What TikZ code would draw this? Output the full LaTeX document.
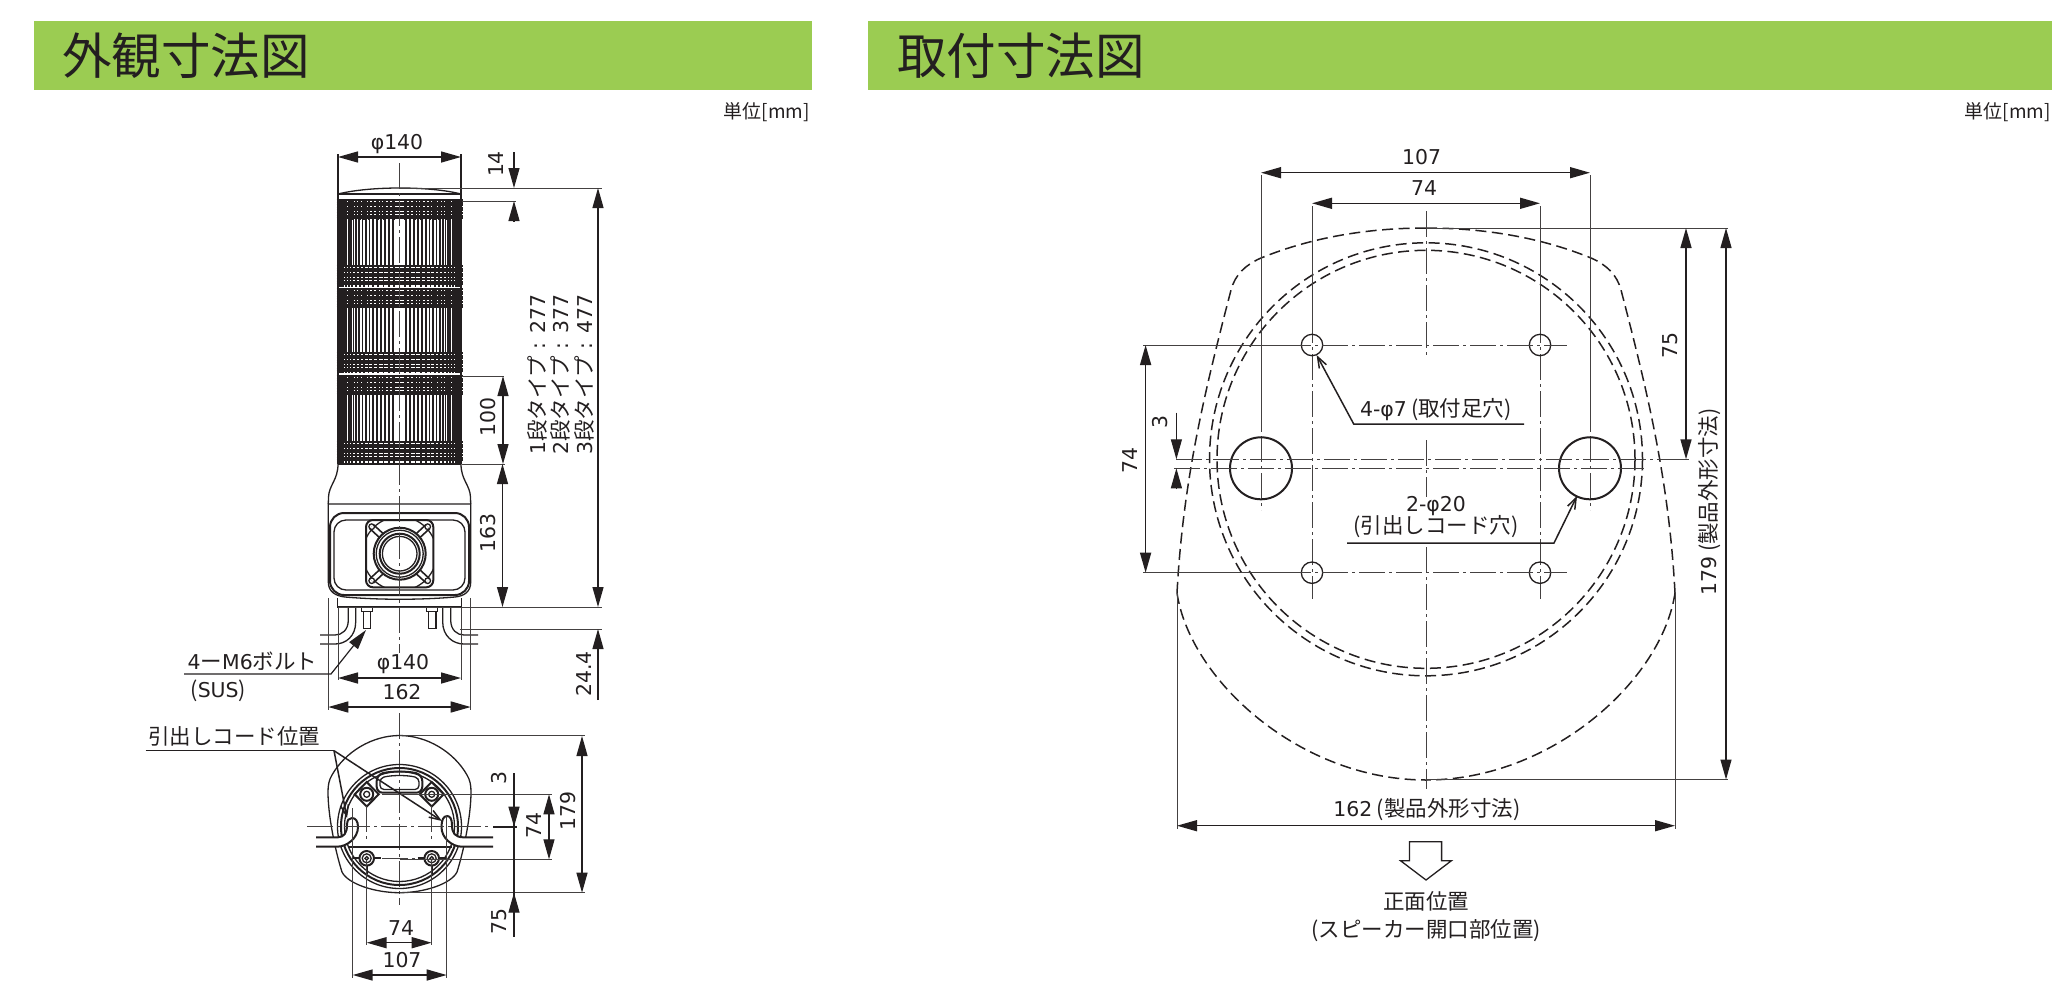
\documentclass[tikz,border=0pt]{standalone}
\usepackage{fontspec}
\setmainfont{Noto Sans CJK JP}
\newfontfamily\numfont[Scale=0.95]{DejaVu Sans}
\usetikzlibrary{arrows.meta}
\definecolor{barGreen}{RGB}{155,204,82}
\definecolor{ink}{RGB}{35,31,32}
\tikzset{
    %Define standard arrow tip
    >={Triangle[length=20pt,width=11pt]},
    %Define style for texts
    lbl/.style={
           inner sep=0pt,
           text=ink,
           font=\fontsize{21.5}{26}\selectfont},
    title/.style={
           inner sep=0pt,
           anchor=west,
           text=ink,
           font=\fontsize{49.5}{56}\selectfont},
    unitlbl/.style={
           inner sep=0pt,
           anchor=east,
           text=ink,
           font=\fontsize{19}{22}\selectfont},
    vert/.style={lbl,rotate=90},
    % Define line styles
    part/.style={draw=ink,line width=1.3pt},
    heavy/.style={draw=ink,line width=2pt},
    hidden/.style={draw=ink,line width=1.5pt,dash pattern=on 11pt off 5.5pt},
    thin/.style={draw=ink!85,line width=1pt},
    dimthin/.style={draw=ink,line width=1.2pt},
    dim/.style={draw=ink,line width=1.5pt,<->},
    center/.style={draw=ink!85,line width=1pt,dash pattern=on 26pt off 4pt on 3pt off 4pt},
    openarrow/.style={draw=ink,line width=1.5pt,-{Straight Barb[length=11pt,width=8pt]}}
}
\newcommand{\LP}{\kern.2em(}
\newcommand{\RP}{)\kern.2em}
\newcommand{\dg}[1]{{\numfont #1}}
\begin{document}
\begin{tikzpicture}[x=1pt,y=-1pt]
\useasboundingbox (0,0) rectangle (2068,996);
 %header bars
\fill[barGreen] (34,21) rectangle (812,90);
\fill[barGreen] (868,21) rectangle (2052,90);
\node[title](title1) at (62,56){外観寸法図};
\node[title](title2) at (897,56){取付寸法図};
\node[unitlbl](unit1) at (810,112){単位[mm]};
\node[unitlbl](unit2) at (2051,112){単位[mm]};

 %tower
\draw[part] (338,194) .. controls (370,186) and (430,186) .. (461,194);
\draw[part] (338,194) -- (461,194);
\draw[part] (338,154) -- (338,464);
\draw[part] (461,154) -- (461,464);
\foreach \top/\bot in {200/266,289/353,376/442}
  \foreach \a in {-86,-82,...,-6,6,10,...,86}
    \draw[ink,line width=1.8pt] ({399.5+60*sin(\a)},\top) -- ({399.5+60*sin(\a)},\bot);
\foreach \top/\bot in {200/220,266/287,289/308,353/373,376/395,442/464}{
  \foreach \a in {-85,-80,...,85}
    \draw[ink,line width=1.8pt] ({399.5+62*sin(\a)},\top) -- ({399.5+62*sin(\a)},\bot);
  \foreach \y in {0,2.6,...,20}
    \draw[ink,line width=1.9pt] (336.5,\top+\y) -- (462.5,\top+\y);
}
\draw[ink,line width=2.4pt] (338,464) -- (461,464);
 %neck and base
\draw[part] (338,464) .. controls (338,480) and (329,485) .. (328.5,497) -- (328.3,504);
\draw[part] (461,464) .. controls (461,480) and (470,485) .. (470.5,497) -- (470.7,504);
\draw[part] (328.3,504) -- (328.3,582) .. controls (328.3,592) and (336,596) .. (345,597)
  .. controls (380,600) and (420,600) .. (455,597) .. controls (464,596) and (470.7,592) .. (470.7,582) -- (470.7,504) -- cycle;
\draw[heavy,rounded corners=14pt] (330,513) rectangle (469,595);
\draw[part,rounded corners=12pt] (334,520) rectangle (465,590);
 %speaker
\draw[heavy,rounded corners=7pt] (366,520) rectangle (433.3,587.3);
\begin{scope}
\clip[rounded corners=7pt] (366,520) rectangle (433.3,587.3);
\draw[part] (399.7,553.7) circle (37);
\end{scope}
\foreach \dx/\dy in {-1/-1,1/-1,-1/1,1/1}{
  \draw[ink,line width=7pt] (399.7+\dx*28,553.7+\dy*27) -- (399.7+\dx*15,553.7+\dy*15);
  \draw[white,line width=3.5pt] (399.7+\dx*28,553.7+\dy*27) -- (399.7+\dx*15,553.7+\dy*15);
  \draw[part] (399.7+\dx*28,553.7+\dy*27) circle (2.8);
}
\draw[heavy,fill=white] (399.7,553.7) circle (26);
\draw[part] (399.7,553.7) circle (23.5);
\draw[heavy] (399.7,553.7) circle (20);
\draw[part] (399.7,553.7) circle (17.3);
 %plate, cords and bolts below the base
\draw[part] (337.3,598) -- (337.3,607) -- (461.7,607) -- (461.7,598);
\draw[part] (348.3,607) -- (348.3,620) .. controls (348.3,630) and (342,635) .. (335,635) -- (320,635);
\draw[part] (355.7,607) -- (355.7,622) .. controls (355.7,636) and (346,644) .. (335,644) -- (320,644);
\draw[part] (450.7,607) -- (450.7,620) .. controls (450.7,630) and (457,635) .. (464,635) -- (478,635);
\draw[part] (442.7,607) -- (442.7,622) .. controls (442.7,636) and (453,644) .. (464,644) -- (478,644);
\draw[part] (361.7,607) rectangle (372.3,611.7);
\draw[part] (363.3,611.7) -- (363.3,628.3) -- (370.7,628.3) -- (370.7,611.7);
\draw[part] (426.7,607) rectangle (437.3,611.7);
\draw[part] (428.7,611.7) -- (428.7,628.3) -- (436,628.3) -- (436,611.7);

 %dimensions of the front view
\draw[center] (399.5,163) -- (399.5,653);
\draw[center] (399.5,713) -- (399.5,905);
\node[lbl](dia1) at (397,144){\dg{φ140}};
\draw[dim] (338,157) -- (461,157);
\draw[thin] (400,188) -- (602,188);
\draw[thin] (462,201) -- (516,201);
\draw[dimthin,->] (514,152) -- (514,188);
\draw[dimthin,->] (514,221) -- (514,201);
\node[vert](d14) at (496,164){\dg{14}};
\draw[thin] (462,376) -- (504,376);
\draw[thin] (462,464) -- (505,464);
\draw[dimthin,<->] (503,376) -- (503,464);
\node[vert](d100) at (488,417){\dg{100}};
\draw[dimthin,<->] (502.5,464) -- (502.5,607);
\node[vert](d163) at (488.5,533){\dg{163}};
\draw[dimthin,<->] (598,188) -- (598,607);
\draw[thin] (338,607) -- (602,607);
\draw[thin] (460,629) -- (602,629);
\draw[dimthin,->] (598,700) -- (598,629);
\node[vert](d244) at (584,674){\dg{24.4}};
\node[vert,anchor=west](type1) at (537,455){\dg{1}段タイプ\dg{ : 277}};
\node[vert,anchor=west](type2) at (560.5,455){\dg{2}段タイプ\dg{ : 377}};
\node[vert,anchor=west](type3) at (584,455){\dg{3}段タイプ\dg{ : 477}};
\draw[thin] (338,607) -- (338,680);
\draw[thin] (461,607) -- (461,680);
\draw[thin] (328.3,598) -- (328.3,710);
\draw[thin] (470.7,598) -- (470.7,710);
\draw[dim] (338,678) -- (461,678);
\node[lbl](dia2) at (403,664){\dg{φ140}};
\draw[dim] (328.3,707) -- (470.7,707);
\node[lbl](d162) at (402,692){\dg{162}};
\coordinate (boltTip) at (366,630);
\coordinate (boltKnee) at (331,674);
\draw[dimthin,->] (184,674) -- (boltKnee) -- (boltTip);
\node[lbl,anchor=west](bolt) at (187.5,661){\dg{4}ー\dg{M6}ボルト};
\node[lbl,anchor=west](sus) at (186,691){\LP\dg{SUS}\RP};

 %bottom view
\draw[part] (399.5,735.5) .. controls (372,735.5) and (345,752) .. (332,775)
  .. controls (329,780) and (328,785) .. (328,792) .. controls (328,815) and (335,850) .. (342,872)
  .. controls (348,884) and (375,892.7) .. (399.5,892.7);
\draw[part] (399.5,735.5) .. controls (427,735.5) and (454,752) .. (467,775)
  .. controls (470,780) and (471,785) .. (471,792) .. controls (471,815) and (464,850) .. (457,872)
  .. controls (451,884) and (424,892.7) .. (399.5,892.7);
\draw[part] (399.5,826.5) circle (62);
\draw[heavy] (399.5,826.5) circle (58.5);
\draw[part] (399.5,826.5) circle (55);
\draw[heavy,rounded corners=6pt] (376.7,775) .. controls (390,771) and (409,771) .. (422.3,775) -- (422.3,792.7) -- (376.7,792.7) -- cycle;
\draw[part,rounded corners=4pt] (380,778) .. controls (392,775) and (407,775) .. (419,778) -- (419,789.5) -- (380,789.5) -- cycle;
\foreach \x in {366.7,431.7}{
  \draw[heavy,fill=white] (\x,782) -- (\x+12,794.3) -- (\x,806.5) -- (\x-12,794.3) -- cycle;
  \draw[heavy] (\x,794.3) circle (6.5);
  \draw[part] (\x,794.3) circle (3);
  \draw[heavy] (\x,858.3) circle (7.3);
  \draw[part] (\x,858.3) circle (4.5);
  \draw[part] (\x,858.3) circle (1.8);
  \draw[ink,line width=2.2pt] (\x-14,858.3) -- (\x-8,858.3);
  \draw[ink,line width=2.2pt] (\x+8,858.3) -- (\x+14,858.3);
  \draw[ink,line width=2.2pt] (\x,866) -- (\x,874);
}
\draw[heavy] (348,846.7) -- (452,846.7);
 %cords of the bottom view
\draw[heavy,fill=white] (316,837.3) -- (338,837.3) .. controls (344,837) and (347,833) .. (347,825)
  .. controls (347,820) and (349,818) .. (352,818) .. controls (355.5,818) and (358,821) .. (358,827)
  .. controls (358,838) and (347,846.7) .. (337,846.7) -- (316,846.7);
\draw[heavy,fill=white] (493,837.3) -- (463,837.3) .. controls (455,837) and (452,833) .. (452,825)
  .. controls (452,819) and (450,816) .. (447,816) .. controls (443.5,816) and (441.5,820) .. (441.5,827)
  .. controls (441.5,838) and (452,846.7) .. (462,846.7) -- (493,846.7);
\draw[center] (307,826.7) -- (489,826.7);
\draw[heavy] (493,826.7) -- (517,826.7);
\draw[center] (382,794.3) -- (419,794.3);
\draw[center] (366.7,806) -- (366.7,840);
\draw[center] (431.7,806) -- (431.7,840);
\draw[center] (382,858.3) -- (416,858.3);

 %dimensions of the bottom view
\coordinate (cordElbow) at (334,750.7);
\draw[part] (145.7,750.7) -- (cordElbow);
\draw[openarrow] (cordElbow) -- (347,818);
\draw[openarrow] (cordElbow) -- (442,821);
\node[lbl,anchor=west](cordpos) at (148,736){引出しコード位置};
\draw[thin] (399.5,735.5) -- (585,735.5);
\draw[thin] (399.5,892.7) -- (585,892.7);
\draw[dimthin,<->] (582,736) -- (582,892.7);
\node[vert](d179) at (568,811){\dg{179}};
\draw[thin] (382,794.3) -- (552,794.3);
\draw[thin] (399.5,859.3) -- (552,859.3);
\draw[dimthin,<->] (549,794.3) -- (549,859.3);
\node[vert](d74v) at (534,825){\dg{74}};
\draw[dimthin] (514,773) -- (514,937);
\draw[dimthin,->] (514,800) -- (514,826.7);
\draw[dimthin,->] (514,915) -- (514,892.7);
\node[vert](d3) at (499,778){\dg{3}};
\node[vert](d75) at (499.3,921.7){\dg{75}};
\draw[thin] (352.7,808) -- (352.7,978);
\draw[thin] (446.7,815) -- (446.7,978);
\draw[thin] (366.7,860) -- (366.7,945);
\draw[thin] (431.7,860) -- (431.7,945);
\draw[dim] (366.7,942.7) -- (431.7,942.7);
\node[lbl](d74h) at (401,927.7){\dg{74}};
\draw[dim] (352.7,975) -- (446.7,975);
\node[lbl](d107h) at (402,960){\dg{107}};

 %mounting drawing
\foreach \s/\c in {1/1426,-1/1426}{
  \draw[hidden] (\c,228) .. controls ({\c-\s*66},228) and ({\c-\s*121},240) .. ({\c-\s*165},258)
    .. controls ({\c-\s*181},265) and ({\c-\s*191},275) .. ({\c-\s*195},290)
    .. controls ({\c-\s*221},390) and ({\c-\s*243},480) .. ({\c-\s*249},593);
  \draw[hidden] ({\c-\s*249},593) .. controls ({\c-\s*236},680) and ({\c-\s*126},780) .. (\c,780);
}
\draw[hidden] (1426,459.3) circle (216.5);
\draw[hidden] (1426,459.3) circle (209);
\draw[center] (1426,211) -- (1426,355);
\draw[center] (1426,440) -- (1426,497);
\draw[center] (1426,547) -- (1426,789);
\foreach \x in {1312,1540}{
  \draw[thin] (\x,206) -- (\x,317);
  \draw[center] (\x,317) -- (\x,599);
  \draw[part] (\x,345) circle (10.7);
  \draw[part] (\x,572.7) circle (10.7);
}
\foreach \x in {1261,1590}{
  \draw[thin] (\x,175) -- (\x,432);
  \draw[center] (\x,436) -- (\x,510);
  \draw[heavy] (\x,468.3) circle (31);
}
\foreach \y in {345,572.7}{
  \draw[thin] (1143,\y) -- (1285,\y);
  \draw[center] (1285,\y) -- (1567,\y);
}
\draw[center] (1176,459.3) -- (1680,459.3);
\draw[thin] (1678,459.3) -- (1689,459.3);
\draw[center] (1174,468.3) -- (1645,468.3);
 %dimensions of the mounting drawing
\draw[dim] (1261,172.7) -- (1590,172.7);
\node[lbl](d107top) at (1421.5,156.7){\dg{107}};
\draw[dim] (1312,203.3) -- (1540,203.3);
\node[lbl](d74top) at (1424,188){\dg{74}};
\draw[dim] (1145.6,345) -- (1145.6,572.7);
\node[vert](d74left) at (1130,460.7){\dg{74}};
\draw[dimthin,->] (1176.4,412.7) -- (1176.4,459.3);
\draw[dimthin,->] (1176.4,489) -- (1176.4,468.3);
\node[vert](d3left) at (1160,421.7){\dg{3}};
\draw[thin] (1426,228) -- (1728,228);
\draw[thin] (1426,779.5) -- (1728,779.5);
\draw[dim] (1686,228) -- (1686,459.3);
\node[vert](d75right) at (1670,345){\dg{75}};
\draw[dimthin,<->] (1726,228) -- (1726,779.5);
\node[vert](d179right) at (1710,499.5){\dg{179}\LP 製品外形寸法\RP};
\draw[thin] (1177,593) -- (1177,829);
\draw[thin] (1675,593) -- (1675,829);
\draw[dim] (1177,825.7) -- (1675,825.7);
\node[lbl](d162bot) at (1429,810){\dg{162}\LP 製品外形寸法\RP};
 %leaders
\coordinate (smallKnee) at (1353.7,424);
\draw[openarrow] (1524,424) -- (smallKnee) -- (1316.6,355);
\node[lbl](smallhole) at (1438,410){\dg{4-φ7}\LP 取付足穴\RP};
\coordinate (bigKnee) at (1554,543);
\draw[openarrow] (1347,543) -- (bigKnee) -- (1577,496);
\node[lbl](bighole) at (1436,506){\dg{2-φ20}};
\node[lbl](bighole2) at (1436,527){\LP 引出しコード穴\RP};
 %front mark
\draw[part,fill=white] (1409.5,841.7) -- (1441.6,841.7) -- (1441.6,860.7) -- (1451.4,860.7) -- (1426,880)
  -- (1400.5,860.7) -- (1409.5,860.7) -- cycle;
\node[lbl](front) at (1426,901.7){正面位置};
\node[lbl](front2) at (1426,930.7){\LP スピーカー開口部位置\RP};
\end{tikzpicture}
\end{document}
